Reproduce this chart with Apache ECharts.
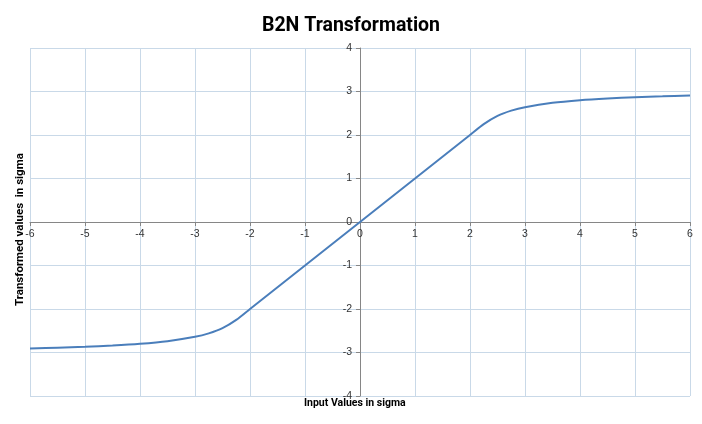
<!DOCTYPE html>
<html><head><meta charset="utf-8">
<script src="https://cdn.jsdelivr.net/npm/echarts@6/dist/echarts.min.js"></script>
<style>html,body{margin:0;padding:0;background:#fff}#c{width:702px;height:424px}</style>
</head><body><div id="c"></div>
<script>
var xValues = [-6, -5.5, -5, -4.5, -4, -3.5, -3, -2.75, -2.5, -2.25, -2, -1, 0, 1, 2, 2.25, 2.5, 2.75, 3, 3.5, 4, 4.5, 5, 5.5, 6];
var yValues = [-2.91, -2.89, -2.87, -2.84, -2.80, -2.74, -2.64, -2.56, -2.44, -2.25, -2.0, -1, 0, 1, 2.0, 2.25, 2.44, 2.56, 2.64, 2.74, 2.80, 2.84, 2.87, 2.89, 2.91];
var titleText = 'B2N Transformation';
var xName = 'Input Values in sigma';
var yName = 'Transformed values  in sigma';

var points = xValues.map(function (x, i) { return [x, yValues[i]]; });
var chart = echarts.init(document.getElementById('c'), null, {renderer: 'canvas'});
var labelFont = {color: '#333', fontSize: 10.5, fontFamily: 'Liberation Sans'};
chart.setOption({
  animation: false,
  title: {text: titleText, left: 'center', top: 11,
    textStyle: {fontFamily: 'Roboto, Liberation Sans, sans-serif', fontWeight: 'bold', fontSize: 19.5, color: '#000'}},
  grid: {left: 30, right: 12, top: 48, bottom: 28, containLabel: false, outerBoundsMode: 'none'},
  xAxis: {type: 'value', min: -6, max: 6, interval: 1, position: 'bottom', offset: -174,
    axisLine: {onZero: false, lineStyle: {color: '#868686', width: 1}},
    axisTick: {show: true, inside: false, length: 4, lineStyle: {color: '#868686'}},
    axisLabel: Object.assign({margin: 7}, labelFont),
    splitLine: {show: true, lineStyle: {color: '#c9d9e8', width: 1}}
  },
  yAxis: {type: 'value', min: -4, max: 4, interval: 1, position: 'left', offset: -330,
    axisLine: {onZero: false, lineStyle: {color: '#868686', width: 1}},
    axisTick: {show: true, inside: false, length: 4, lineStyle: {color: '#868686'}},
    axisLabel: Object.assign({margin: 8}, labelFont),
    splitLine: {show: true, lineStyle: {color: '#c9d9e8', width: 1}}
  },
  graphic: [
    {type: 'text', left: 304, top: 398, style: {text: xName, font: 'bold 10.5px Roboto, "Liberation Sans", sans-serif', fill: '#000'}},
    {type: 'text', rotation: Math.PI / 2, x: 14, y: 306, style: {text: yName, font: 'bold 11.5px Roboto, "Liberation Sans", sans-serif', fill: '#000'}}
  ],
  series: [{type: 'line', data: points, showSymbol: false, smooth: 0.3,
    lineStyle: {color: '#4a7ebb', width: 2}}]
});
</script></body></html>
